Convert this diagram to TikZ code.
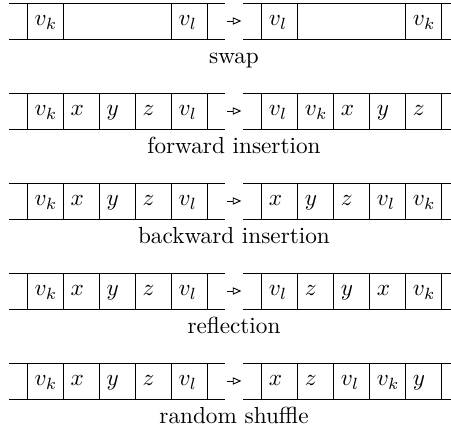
\documentclass[tikz,border=0pt]{standalone}
\usetikzlibrary{arrows.meta, calc, positioning}
\tikzset{
  cell/.style    = {draw, minimum width=5.45mm, minimum height=5.45mm,
                    inner xsep=1.175mm, inner ysep=0pt, outer sep=0pt,
                    text width=3.1mm, align=left,
                    text height=1ex, text depth=0pt},
  widecell/.style = {cell, text width=14mm},
  flow/.style    = {-{Triangle[open, length=1.3mm, width=1.1mm]},
                    shorten <=0.35mm, shorten >=0.25mm},
  caption/.style = {anchor=base, inner sep=0pt},
}

\begin{document}
\begin{tikzpicture}
  \useasboundingbox (0,0.45mm) rectangle (68.28mm,-64.95mm);

  %% ---------------- swap ----------------
  \node[cell] (swapL1) at (6.81mm, -2.725mm) {$v_k$};
  \node[widecell] (swapL3) at (17.71mm, -2.725mm) {};
  \node[cell] (swapL5) at (28.61mm, -2.725mm) {$v_l$};
  \node[cell] (swapR1) at (42.24mm, -2.725mm) {$v_l$};
  \node[widecell] (swapR3) at (53.14mm, -2.725mm) {};
  \node[cell] (swapR5) at (64.04mm, -2.725mm) {$v_k$};

  %% ---------------- forward insertion ----------------
  \foreach \i/\t in {1/v_k, 2/x, 3/y, 4/z, 5/v_l}
    \node[cell] (fwdL\i) at (\i*5.45mm + 1.36mm, -16.35mm) {$\t$};
  \foreach \i/\t in {1/v_l, 2/v_k, 3/x, 4/y, 5/z}
    \node[cell] (fwdR\i) at (\i*5.45mm + 36.79mm, -16.35mm) {$\t$};

  %% ---------------- backward insertion ----------------
  \foreach \i/\t in {1/v_k, 2/x, 3/y, 4/z, 5/v_l}
    \node[cell] (bwdL\i) at (\i*5.45mm + 1.36mm, -29.975mm) {$\t$};
  \foreach \i/\t in {1/x, 2/y, 3/z, 4/v_l, 5/v_k}
    \node[cell] (bwdR\i) at (\i*5.45mm + 36.79mm, -29.975mm) {$\t$};

  %% ---------------- reflection ----------------
  \foreach \i/\t in {1/v_k, 2/x, 3/y, 4/z, 5/v_l}
    \node[cell] (reflL\i) at (\i*5.45mm + 1.36mm, -43.6mm) {$\t$};
  \foreach \i/\t in {1/v_l, 2/z, 3/y, 4/x, 5/v_k}
    \node[cell] (reflR\i) at (\i*5.45mm + 36.79mm, -43.6mm) {$\t$};

  %% ---------------- random shuffle ----------------
  \foreach \i/\t in {1/v_k, 2/x, 3/y, 4/z, 5/v_l}
    \node[cell] (shufL\i) at (\i*5.45mm + 1.36mm, -57.225mm) {$\t$};
  \foreach \i/\t in {1/x, 2/z, 3/v_l, 4/v_k, 5/y}
    \node[cell] (shufR\i) at (\i*5.45mm + 36.79mm, -57.225mm) {$\t$};

  % The strips run half a cell past their first and last cell, the
  % arrow sits in the gap between them, the caption under the gap.
  \foreach \row/\cap in {swap/swap, fwd/forward insertion,
                         bwd/backward insertion, refl/reflection,
                         shuf/random shuffle} {
    \foreach \side in {L, R} {
      \draw ($(\row\side1.north west)+(-2.725mm,0)$)
         -- ($(\row\side5.north east)+(2.725mm,0)$);
      \draw ($(\row\side1.south west)+(-2.725mm,0)$)
         -- ($(\row\side5.south east)+(2.725mm,0)$);
    }
    \coordinate (\row A) at ($(\row L5.east)+(2.725mm,0)$);
    \coordinate (\row B) at ($(\row R1.west)+(-2.725mm,0)$);
    \draw[flow] (\row A) -- (\row B);
    \node[caption] (\row cap) at ($(\row A)!0.5!(\row B)+(0,-6.5mm)$) {\cap};
  }

\end{tikzpicture}
\end{document}
